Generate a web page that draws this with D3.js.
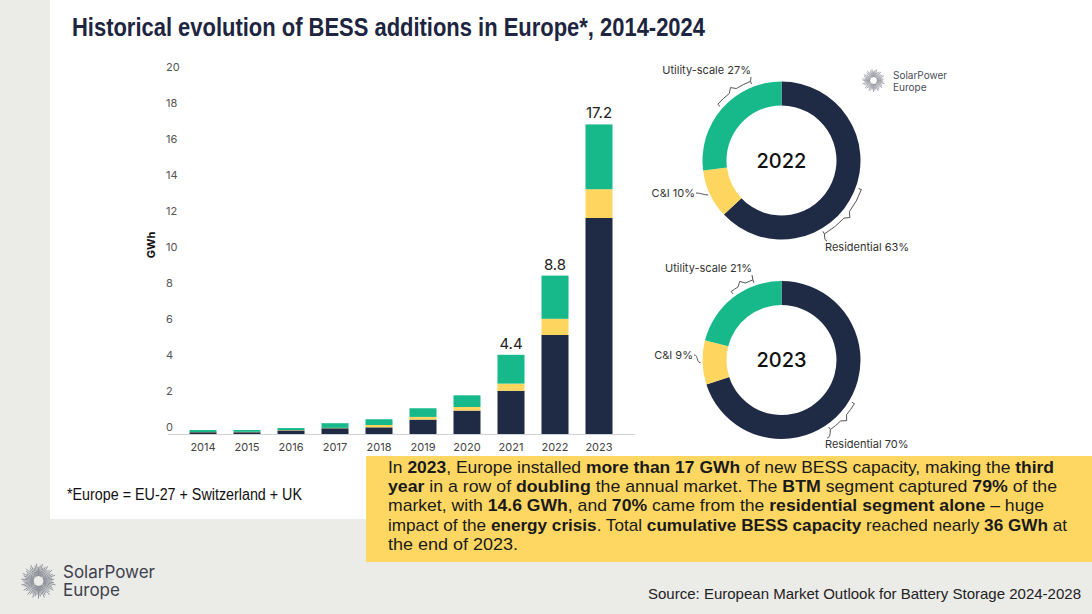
<!DOCTYPE html>
<html><head><meta charset="utf-8">
<script src="https://cdn.jsdelivr.net/npm/d3@7"></script>
<style>body{margin:0;padding:0;} svg{display:block;} text{white-space:pre;}</style>
</head><body>
<script>
// ---------- data ----------
const years = ["2014","2015","2016","2017","2018","2019","2020","2021","2022","2023"];
const residential = [0.10, 0.10, 0.20, 0.32, 0.37, 0.80, 1.30, 2.40, 5.50, 12.00];
const cni         = [0.01, 0.02, 0.02, 0.02, 0.13, 0.15, 0.20, 0.40, 0.90, 1.60];
const utility     = [0.11, 0.10, 0.11, 0.26, 0.32, 0.48, 0.65, 1.60, 2.40, 3.60];
const totalLabels = ["", "", "", "", "", "", "", "4.4", "8.8", "17.2"];
const yTicks = [0,2,4,6,8,10,12,14,16,18,20];
const segmentNames = ["Residential","C&I","Utility-scale"];
const donutYears = ["2022","2023"];
const shares2022 = [63, 10, 27];
const shares2023 = [70, 9, 21];

const colors = {"Residential":"#1f2a45","C&I":"#fed55f","Utility-scale":"#17b98a"};
const W = 1092, H = 614;
const svg = d3.select("body").append("svg").attr("width",W).attr("height",H);

// background + panels
svg.append("rect").attr("width",W).attr("height",H).attr("fill","#ebebe8");
svg.append("rect").attr("x",50).attr("y",0).attr("width",W-50).attr("height",519).attr("fill","#ffffff");

const narrow = "'Liberation Sans', Arial, sans-serif";
const geo = "Inter, 'Noto Sans', sans-serif";

// title
svg.append("text").attr("x",72).attr("y",36)
  .attr("font-family",narrow).attr("font-weight",700).attr("font-size",25)
  .attr("fill","#1d2540").attr("textLength",633).attr("lengthAdjust","spacingAndGlyphs")
  .text("Historical evolution of BESS additions in Europe*, 2014-2024");

// ---------- bar chart ----------
const stackData = years.map((yr,i)=>({year:yr,"Residential":residential[i],"C&I":cni[i],"Utility-scale":utility[i]}));
const series = d3.stack().keys(segmentNames)(stackData);
const x = d3.scaleBand().domain(years).range([167.5,634.5]).paddingInner(0.386).paddingOuter(0.5);
const y = d3.scaleLinear().domain([0,20]).range([434,74]);

const bars = svg.append("g");
series.forEach(s=>{
  bars.append("g").attr("fill",colors[s.key]).selectAll("rect").data(s).join("rect")
    .attr("x",d=>x(d.data.year)).attr("width",x.bandwidth())
    .attr("y",d=>y(d[1])).attr("height",d=>y(d[0])-y(d[1]));
});

// x axis
const xAxis = svg.append("g").attr("transform","translate(0,434)")
  .call(d3.axisBottom(x).tickSize(0).tickSizeOuter(0).tickPadding(9));
xAxis.select(".domain").attr("stroke","#cfd3d8").attr("stroke-width",1);
xAxis.selectAll("text").attr("font-family",geo).attr("font-size",11).attr("fill","#444");

// y axis (labels only)
const yAxis = svg.append("g").attr("transform","translate(166,-7.5)")
  .call(d3.axisLeft(y).tickValues(yTicks).tickSize(0).tickPadding(0));
yAxis.select(".domain").remove();
yAxis.selectAll("text").attr("text-anchor","start").attr("x",0)
  .attr("font-family",geo).attr("font-size",11).attr("fill","#555");

svg.append("text").attr("transform","translate(155,245) rotate(-90)")
  .attr("text-anchor","middle").attr("font-family",geo).attr("font-weight",700)
  .attr("font-size",11).attr("fill","#111").text("GWh");

// total labels
const totals = years.map((yr,i)=>residential[i]+cni[i]+utility[i]);
svg.append("g").selectAll("text").data(years).join("text")
  .attr("x",d=>x(d)+x.bandwidth()/2).attr("y",(d,i)=>y(totals[i])-6)
  .attr("text-anchor","middle").attr("font-family",geo).attr("font-size",15)
  .attr("fill","#222").text((d,i)=>totalLabels[i]);

// ---------- donuts ----------
const rOut = 79, rIn = 55;
const donutCfg = [
  {year:donutYears[0], shares:shares2022, cx:781.5, cy:160.5,
   util:{lx:751, ly:74, b:[0.5,0.78]}, cni:{lx:696, ly:197}, res:{lx:825, ly:251, b:[0.485,0.66]}},
  {year:donutYears[1], shares:shares2023, cx:781.5, cy:360,
   util:{lx:752, ly:272, b:[0.52,0.74]}, cni:{lx:694, ly:359}, res:{lx:825, ly:448, b:[0.48,0.575]}}
];
const pie = d3.pie().sort(null).value(d=>d.v);
const arc = d3.arc().innerRadius(rIn).outerRadius(rOut);
const pt = (cx,cy,r,rad)=>[cx+r*Math.sin(rad), cy-r*Math.cos(rad)];

function bracketPath(cx,cy,R,a1,a2){
  const am=(a1+a2)/2, d=0.05;
  const p=(r,a)=>pt(cx,cy,r,a).map(v=>v.toFixed(2)).join(",");
  return `M${p(R-3,a1)}L${p(R,a1)}A${R},${R} 0 0 1 ${p(R,am-d)}L${p(R+4,am)}L${p(R,am+d)}A${R},${R} 0 0 1 ${p(R,a2)}L${p(R-3,a2)}`;
}

donutCfg.forEach(cfg=>{
  const arcs = pie(segmentNames.map((n,i)=>({name:n,v:cfg.shares[i]})));
  const g = svg.append("g");
  g.append("g").attr("transform",`translate(${cfg.cx},${cfg.cy})`)
    .selectAll("path").data(arcs).join("path").attr("d",arc).attr("fill",d=>colors[d.data.name]);
  g.append("text").attr("x",cfg.cx).attr("y",cfg.cy+7).attr("text-anchor","middle")
    .attr("font-family",geo).attr("font-weight",500).attr("font-size",20).attr("fill","#111").text(cfg.year);

  const lbl = (txt,xx,yy,anchor)=>g.append("text").attr("x",xx).attr("y",yy).attr("text-anchor",anchor)
    .attr("font-family",geo).attr("font-size",11).attr("fill","#333").text(txt);
  const line = d=>g.append("path").attr("d",d).attr("fill","none").attr("stroke","#555").attr("stroke-width",1);
  const R = rOut+6;

  // residential
  const ra = arcs[0], rs = ra.endAngle-ra.startAngle;
  const r1 = ra.startAngle+rs*cfg.res.b[0], r2 = ra.startAngle+rs*cfg.res.b[1];
  line(bracketPath(cfg.cx,cfg.cy,R,r1,r2));
  const re = pt(cfg.cx,cfg.cy,R,r2);
  line(`M${re[0]},${re[1]}Q${re[0]},${cfg.res.ly-10} ${cfg.res.lx+2},${cfg.res.ly-10}`);
  lbl(segmentNames[0]+" "+cfg.shares[0]+"%", cfg.res.lx, cfg.res.ly, "start");

  // C&I
  const ca = arcs[1], cm = (ca.startAngle+ca.endAngle)/2;
  const ce = pt(cfg.cx,cfg.cy,rOut+2,cm);
  line(`M${cfg.cni.lx},${cfg.cni.ly-4}C${cfg.cni.lx+5},${cfg.cni.ly-4} ${ce[0]-5},${ce[1]} ${ce[0]},${ce[1]}`);
  lbl(segmentNames[1]+" "+cfg.shares[1]+"%", cfg.cni.lx-1, cfg.cni.ly, "end");

  // utility
  const ua = arcs[2], us = ua.endAngle-ua.startAngle;
  const u1 = ua.startAngle+us*cfg.util.b[0], u2 = ua.startAngle+us*cfg.util.b[1];
  line(bracketPath(cfg.cx,cfg.cy,R,u1,u2));
  const ue = pt(cfg.cx,cfg.cy,R,u2);
  line(`M${ue[0]},${ue[1]}L${cfg.util.lx},${cfg.util.ly+3}`);
  lbl(segmentNames[2]+" "+cfg.shares[2]+"%", cfg.util.lx, cfg.util.ly, "end");
});

// ---------- logos ----------
function sunburst(cx,cy,r0,r1,n,sw){
  const g = svg.append("g").attr("stroke","#858892").attr("stroke-width",sw);
  g.selectAll("line").data(d3.range(n)).join("line")
    .attr("x1",i=>cx+r0*Math.cos(i*2*Math.PI/n)).attr("y1",i=>cy+r0*Math.sin(i*2*Math.PI/n))
    .attr("x2",i=>cx+r1*(0.8+0.2*((i*7)%3)/2)*Math.cos(i*2*Math.PI/n))
    .attr("y2",i=>cy+r1*(0.8+0.2*((i*7)%3)/2)*Math.sin(i*2*Math.PI/n));
}
sunburst(873.5,80.5,3.5,11.5,44,0.7);
svg.append("text").attr("x",893).attr("y",79).attr("font-family",geo).attr("font-size",10).attr("fill","#4a4e5a").text("SolarPower");
svg.append("text").attr("x",893).attr("y",91).attr("font-family",geo).attr("font-size",10).attr("fill","#4a4e5a").text("Europe");

sunburst(38.5,581,5,17.5,56,0.9);
svg.append("text").attr("x",63).attr("y",578).attr("font-family",geo).attr("font-size",17).attr("fill","#3d414d").text("SolarPower");
svg.append("text").attr("x",63).attr("y",596).attr("font-family",geo).attr("font-size",17).attr("fill","#3d414d").text("Europe");

// footnote
svg.append("text").attr("x",67).attr("y",500).attr("font-family",narrow).attr("font-size",16)
  .attr("fill","#111").attr("textLength",235).attr("lengthAdjust","spacingAndGlyphs")
  .text("*Europe = EU-27 + Switzerland + UK");

// ---------- yellow box ----------
svg.append("rect").attr("x",366).attr("y",456).attr("width",W-366).attr("height",106).attr("fill","#fed762");
const boxLines = [
  [["In ",0],["2023",1],[", Europe installed ",0],["more than 17 GWh",1],[" of new BESS capacity, making the ",0],["third",1]],
  [["year",1],[" in a row of ",0],["doubling",1],[" the annual market. The ",0],["BTM",1],[" segment captured ",0],["79%",1],[" of the",0]],
  [["market, with ",0],["14.6 GWh",1],[", and ",0],["70%",1],[" came from the ",0],["residential segment alone",1],[" \u2013 huge",0]],
  [["impact of the ",0],["energy crisis",1],[". Total ",0],["cumulative BESS capacity",1],[" reached nearly ",0],["36 GWh",1],[" at",0]],
  [["the end of 2023.",0]]
];
const boxWidths = [666, 669, 656, 679, 130];
boxLines.forEach((ln,i)=>{
  const t = svg.append("text").attr("x",388).attr("y",473+i*19.2)
    .attr("font-family",narrow).attr("font-size",16.4).attr("fill","#1a1a1a")
    .attr("textLength",boxWidths[i]).attr("lengthAdjust","spacingAndGlyphs");
  ln.forEach(([s,b])=>t.append("tspan").attr("font-weight",b?700:400).text(s));
});

// source
svg.append("text").attr("x",648).attr("y",599)
  .attr("font-family",narrow).attr("font-size",15).attr("fill","#222")
  .attr("textLength",433).attr("lengthAdjust","spacingAndGlyphs")
  .text("Source: European Market Outlook for Battery Storage 2024-2028");
</script>
</body></html>
